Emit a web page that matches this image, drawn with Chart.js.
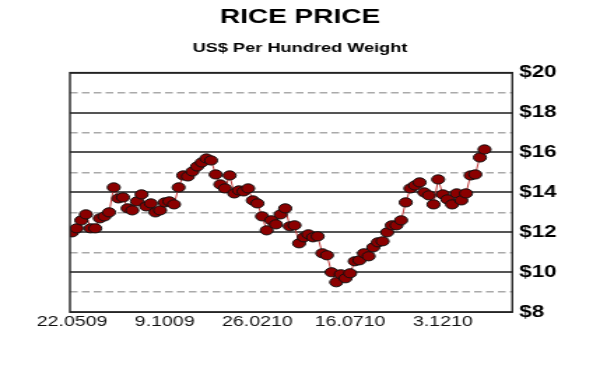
<!DOCTYPE html>
<html>
<head>
<meta charset="utf-8">
<script src="https://cdn.jsdelivr.net/npm/chart.js@4"></script>
<style>
  body { margin: 0; background: #fff; }
</style>
</head>
<body>
<!-- the original picture is stretched sideways, so the canvas is too -->
<canvas id="chart" width="429" height="371" style="width:600px;height:371px"></canvas>
<script>
// weekly rice price, US$ per hundred weight
const prices = [
  12.0, 12.2, 12.6, 12.9, 12.2, 12.2, 12.7, 12.8, 13.0, 14.25, 13.7,
  13.75, 13.2, 13.1, 13.55, 13.9, 13.3, 13.45, 13.0, 13.1, 13.5, 13.55,
  13.4, 14.25, 14.85, 14.8, 15.05, 15.3, 15.5, 15.7, 15.6, 14.9,
  14.4, 14.2, 14.85, 13.95, 14.1, 14.05, 14.2, 13.6, 13.45, 12.8,
  12.1, 12.6, 12.4, 12.9, 13.2, 12.3, 12.35, 11.45, 11.75, 11.9, 11.75, 11.8,
  10.95, 10.85, 10.0, 9.5, 9.9, 9.7, 9.95, 10.55, 10.6, 10.95, 10.8, 11.25,
  11.5, 11.55, 12.0, 12.35, 12.35, 12.6, 13.5, 14.2, 14.35, 14.5, 14.0, 13.85,
  13.4, 14.65, 13.9, 13.65, 13.4, 13.95, 13.6, 13.95, 14.85, 14.9, 15.75, 16.15
];
const tickIndex = [0, 20, 40, 60, 80];
const tickLabels = ['22.0509', '9.1009', '26.0210', '16.0710', '3.1210'];
const solidLevels = [8, 10, 12, 14, 16, 18, 20];
const dashedLevels = [9, 11, 13, 15, 17, 19];

const frame = { // box round the plot area
  id: 'frame',
  afterDraw(chart) {
    const { ctx, chartArea: a } = chart;
    ctx.save();
    ctx.strokeStyle = '#222';
    ctx.lineWidth = 1.4;
    ctx.strokeRect(a.left, a.top, a.right - a.left, a.bottom - a.top);
    ctx.restore();
  }
};

const ctx = document.getElementById('chart').getContext('2d');
new Chart(ctx, {
  type: 'line',
  data: {
    datasets: [{
      data: prices.map((p, i) => ({ x: i, y: p })),
      borderColor: '#c23a3a',
      borderWidth: 1,
      pointStyle: 'circle',
      pointRadius: 4.6,
      pointBackgroundColor: '#8b0000',
      pointBorderColor: '#111',
      pointBorderWidth: 1,
      tension: 0,
      fill: false
    }]
  },
  options: {
    responsive: false,
    animation: false,
    layout: { padding: { left: 26, right: 26, top: 0, bottom: 38 } },
    plugins: {
      legend: { display: false },
      tooltip: { enabled: false },
      title: {
        display: true,
        text: 'RICE PRICE',
        color: '#000',
        font: { family: 'Liberation Sans, Arial', size: 20, weight: 'bold' },
        padding: { top: 5, bottom: 4 }
      },
      subtitle: {
        display: true,
        text: 'US$ Per Hundred Weight',
        color: '#000',
        font: { family: 'Liberation Sans, Arial', size: 13, weight: 'bold' },
        padding: { top: 8, bottom: 16 }
      }
    },
    scales: {
      x: {
        type: 'linear',
        min: -0.45,
        max: 95,
        afterBuildTicks: s => { s.ticks = tickIndex.map(v => ({ value: v })); },
        grid: { display: false, drawTicks: false },
        border: { display: false },
        ticks: {
          color: '#111',
          font: { family: 'Liberation Sans, Arial', size: 14 },
          maxRotation: 0,
          padding: 2,
          callback: (v) => tickLabels[tickIndex.indexOf(v)]
        }
      },
      y: {
        position: 'right',
        min: 8,
        max: 20,
        afterBuildTicks: s => { s.ticks = solidLevels.map(v => ({ value: v })); },
        grid: { color: '#555', lineWidth: 2, drawTicks: false },
        border: { display: false },
        ticks: {
          color: '#000',
          padding: 5,
          font: { family: 'Liberation Sans, Arial', size: 16, weight: 'bold' },
          callback: v => '$' + v
        }
      },
      y2: {
        position: 'right',
        min: 8,
        max: 20,
        afterBuildTicks: s => { s.ticks = dashedLevels.map(v => ({ value: v })); },
        afterFit: s => { s.width = 0; },
        grid: { color: '#aaa', lineWidth: 1.5, drawTicks: false },
        border: { display: false, dash: [5.5, 3] },
        ticks: { display: false }
      },
      // empty left axis, only keeps the gap left of the plot
      gap: {
        position: 'left',
        min: 8,
        max: 20,
        afterFit: s => { s.width = 24; },
        grid: { display: false, drawTicks: false },
        border: { display: false },
        ticks: { display: false }
      }
    }
  },
  plugins: [frame]
});
</script>
</body>
</html>
